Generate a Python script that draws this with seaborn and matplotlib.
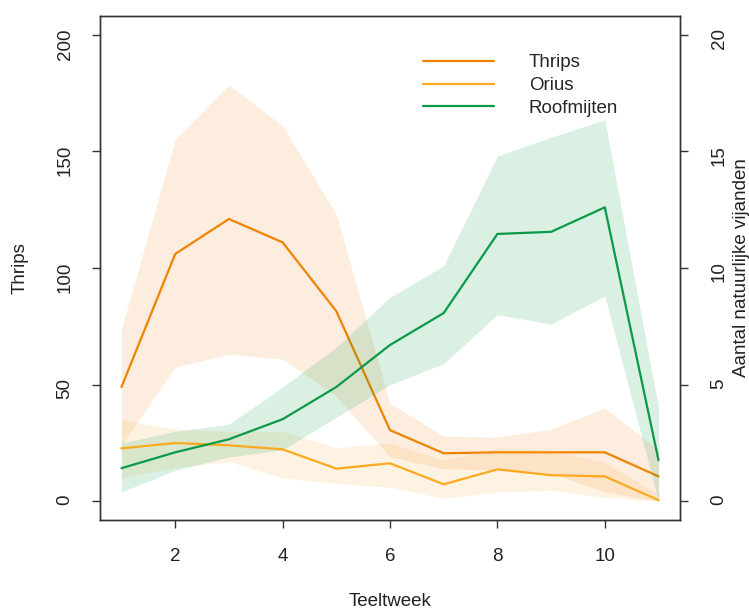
import numpy as np
import matplotlib
matplotlib.use("Agg")
import matplotlib.pyplot as plt
import seaborn as sns

# Data
weeks = [1, 2, 3, 4, 5, 6, 7, 8, 9, 10, 11]

thrips = [49, 106, 121, 111, 81.5, 30.5, 20.6, 21, 21, 21, 10.7]
thrips_hi = [74, 155, 178.5, 161, 123, 42, 28, 27.5, 31, 40, 22]
thrips_lo = [24, 57.5, 63, 61, 45, 19, 14, 13.3, 12, 4, 0]

orius = [2.27, 2.5, 2.4, 2.23, 1.4, 1.63, 0.73, 1.37, 1.12, 1.07, 0.05]
orius_hi = [3.5, 3.1, 3.0, 3.0, 2.3, 2.5, 1.76, 2.27, 2.2, 1.67, 0.3]
orius_lo = [1.0, 1.46, 1.7, 1.0, 0.77, 0.6, 0.13, 0.4, 0.47, 0.17, 0.0]

roof = [1.42, 2.1, 2.66, 3.52, 4.9, 6.7, 8.07, 11.46, 11.55, 12.6, 1.76]
roof_hi = [2.5, 3.0, 3.3, 4.9, 6.6, 8.75, 10.1, 14.8, 15.6, 16.35, 4.0]
roof_lo = [0.4, 1.33, 1.9, 2.2, 3.6, 5.0, 5.9, 8.0, 7.6, 8.8, 0.0]

c_thrips = "#F08300"
c_orius = "#FBA91E"
c_roof = "#0A9A48"

sns.set_theme(style="white")
plt.rcParams["font.family"] = ["Liberation Sans", "DejaVu Sans"]
plt.rcParams["font.size"] = 13.5

fig = plt.figure(figsize=(7.49, 6.10), dpi=100)
ax = fig.add_axes([100 / 749, 90 / 610, 580 / 749, 504 / 610])

# Thrips on left axis
ax.fill_between(weeks, thrips_lo, thrips_hi, color="#F7A452", alpha=0.19, lw=0)
sns.lineplot(x=weeks, y=thrips, ax=ax, color=c_thrips, lw=1.6, label="Thrips")

ax.set_xlim(0.6, 11.4)
ax.set_ylim(-8, 208)
ax.set_yticks([0, 50, 100, 150, 200])
ax.set_xticks([2, 4, 6, 8, 10])

# natural enemies on right axis
ax2 = ax.twinx()
ax2.fill_between(weeks, orius_lo, orius_hi, color="#FBB040", alpha=0.15, lw=0)
sns.lineplot(x=weeks, y=orius, ax=ax2, color=c_orius, lw=1.6, label="Orius")
ax2.fill_between(weeks, roof_lo, roof_hi, color="#009E48", alpha=0.15, lw=0)
sns.lineplot(x=weeks, y=roof, ax=ax2, color=c_roof, lw=1.6, label="Roofmijten")
ax2.set_ylim(-0.8, 20.8)
ax2.set_yticks([0, 5, 10, 15, 20])

for a in (ax, ax2):
    for s in a.spines.values():
        s.set_color("#333333")
        s.set_linewidth(1.0)

ax.tick_params(axis="x", direction="out", length=6, width=1, color="#333333",
               labelsize=13.5, labelcolor="#222222", pad=14, bottom=True)
ax.tick_params(axis="y", direction="out", length=6, width=1, color="#333333",
               labelsize=13.5, labelcolor="#222222", pad=13, left=True,
               labelrotation=90)
ax2.tick_params(axis="y", direction="out", length=6, width=1, color="#333333",
                labelsize=13.5, labelcolor="#222222", pad=16, right=True,
                labelrotation=90)

ax.set_xlabel("Teeltweek", fontsize=13.5, color="#222222", labelpad=20)
ax.set_ylabel("Thrips", fontsize=13.5, color="#222222", labelpad=20)
ax2.set_ylabel("Aantal natuurlijke vijanden", fontsize=13.5, color="#222222",
               labelpad=4)

# combined legend
h1, l1 = ax.get_legend_handles_labels()
h2, l2 = ax2.get_legend_handles_labels()
if ax.get_legend():
    ax.get_legend().remove()
ax2.legend(h1 + h2, l1 + l2, loc="upper left", bbox_to_anchor=(0.557, 0.924),
           frameon=False, fontsize=13.5, handlelength=3.8, handletextpad=1.85,
           labelspacing=0.3, borderpad=0, borderaxespad=0)

fig.savefig("out.png", dpi=100)
